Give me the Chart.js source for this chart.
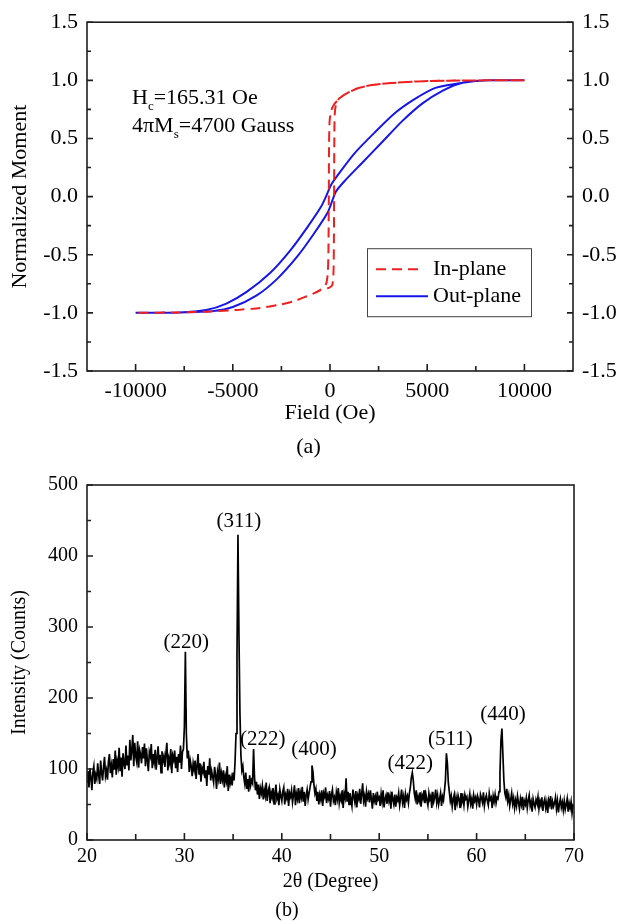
<!doctype html>
<html lang="en">
<head>
  <meta charset="utf-8">
  <title>Hysteresis loops and XRD pattern</title>
  <script src="https://cdn.jsdelivr.net/npm/chart.js@4.4.0/dist/chart.umd.min.js"></script>
  <style>
    body { margin: 0; background: #fff; }
    #wrap { position: relative; width: 617px; height: 924px; }
    canvas { position: absolute; left: 0; }
  </style>
</head>
<body>
<div id="wrap">
  <canvas id="loopChart" width="617" height="464" style="top:0;width:617px;height:464px"></canvas>
  <canvas id="xrdChart" width="617" height="460" style="top:464px;width:617px;height:460px"></canvas>
</div>
<script>
  Chart.defaults.font.family = '"Liberation Serif", "Times New Roman", serif';
  Chart.defaults.color = '#000';
  Chart.defaults.animation = false;

  // ---------- (a) hysteresis loops ----------
  const fieldTicks = [-10000, -5000, 0, 5000, 10000];
  const fieldMinor = [-7500, -2500, 2500, 7500];
  const momentTicks = [-1.5, -1.0, -0.5, 0.0, 0.5, 1.0, 1.5];
  const momentMinor = [-1.25, -0.75, -0.25, 0.25, 0.75, 1.25];

  // in-plane, field sweeping down then up
  const inPlaneDownH = [10000, 8000, 6000, 4400, 3000, 2000, 1400, 1000, 600, 400, 200, 60, -20, -50, -60, -80, -110, -200, -470, -800, -1160, -1850, -2600, -3600, -4800, -6100, -7500, -10000];
  const inPlaneDownM = [1.0, 1.0, 0.997, 0.99, 0.975, 0.955, 0.93, 0.9, 0.86, 0.83, 0.79, 0.74, 0.65, 0.45, 0.0, -0.45, -0.65, -0.75, -0.8, -0.83, -0.855, -0.9, -0.93, -0.958, -0.975, -0.988, -0.996, -1.0];
  const inPlaneUpH = [-10000, -7500, -6100, -4800, -3600, -2600, -1850, -1160, -800, -470, -250, -50, 120, 180, 200, 210, 220, 240, 300, 400, 600, 1000, 1400, 2000, 3000, 4400, 6000, 8000, 10000];
  const inPlaneUpM = [-1.0, -0.996, -0.988, -0.975, -0.958, -0.93, -0.9, -0.855, -0.83, -0.8, -0.79, -0.785, -0.76, -0.65, -0.4, 0.0, 0.45, 0.7, 0.79, 0.83, 0.86, 0.9, 0.93, 0.955, 0.975, 0.99, 0.997, 1.0, 1.0];

  // out-plane
  const outPlaneDownH = [10000, 8200, 6820, 5420, 4370, 3330, 2290, 1250, 400, 52, -208, -470, -1150, -2030, -3070, -4290, -5330, -6370, -7760, -10000];
  const outPlaneDownM = [1.0, 1.0, 0.98, 0.935, 0.84, 0.717, 0.55, 0.37, 0.185, 0.10, 0.0, -0.09, -0.26, -0.46, -0.655, -0.82, -0.92, -0.975, -0.997, -1.0];
  const outPlaneUpH = [-10000, -7760, -6040, -5000, -3770, -2730, -1680, -830, -120, 140, 310, 730, 1610, 2660, 3700, 4740, 5780, 6820, 8200, 10000];
  const outPlaneUpM = [-1.0, -0.997, -0.985, -0.95, -0.85, -0.71, -0.515, -0.32, -0.137, -0.025, 0.045, 0.13, 0.283, 0.465, 0.647, 0.80, 0.91, 0.98, 1.0, 1.0];

  // ---------- (b) XRD pattern ----------
  const scanStart = 20, scanStep = 0.1;
  const xrdCounts = [
    82, 97, 74, 101, 88, 70, 95, 104, 79, 92,        // 20
    86, 108, 91, 79, 112, 95, 84, 103, 117, 90,      // 21
    98, 85, 110, 121, 94, 105, 88, 114, 99, 126,     // 22
    92, 111, 103, 130, 97, 116, 89, 122, 108, 100,   // 23
    133, 105, 119, 98, 141, 112, 126, 148, 104, 137, // 24
    118, 110, 139, 102, 127, 121, 108, 131, 115, 136,// 25
    104, 129, 112, 97, 124, 118, 135, 101, 121, 110, // 26
    127, 99, 116, 132, 106, 120, 95, 125, 111, 118,  // 27
    103, 122, 137, 98, 115, 108, 128, 94, 119, 113,  // 28
    126, 101, 117, 96, 121, 109, 133, 100, 124, 128, // 29
    160, 265, 150, 115, 126, 96, 112, 104, 90, 108,  // 30
    99, 112, 86, 104, 121, 93, 108, 82, 101, 96,     // 31
    110, 87, 98, 76, 104, 92, 115, 84, 97, 89,       // 32
    81, 103, 92, 72, 96, 87, 109, 79, 94, 85,        // 33
    98, 74, 90, 83, 104, 69, 92, 80, 88, 77,         // 34
    95, 84, 110, 150, 260, 430, 290, 180, 120, 98,   // 35
    104, 88, 79, 95, 72, 86, 68, 91, 77, 84,         // 36
    80, 128, 88, 70, 82, 64, 78, 58, 73, 66,         // 37
    76, 57, 70, 62, 81, 55, 69, 74, 52, 67,          // 38
    60, 73, 51, 66, 78, 58, 63, 49, 71, 62,          // 39
    55, 68, 74, 50, 64, 59, 72, 48, 66, 61,          // 40
    70, 53, 63, 77, 49, 65, 58, 73, 52, 67,          // 41
    60, 75, 54, 68, 48, 63, 71, 57, 66, 74,          // 42
    82, 105, 96, 78, 66, 72, 55, 68, 50, 64,         // 43
    57, 70, 48, 66, 61, 74, 52, 63, 58, 69,          // 44
    47, 64, 71, 55, 60, 49, 67, 58, 73, 52,          // 45
    62, 56, 70, 45, 65, 59, 87, 54, 68, 50,          // 46
    66, 57, 48, 71, 61, 53, 69, 46, 63, 58,          // 47
    72, 51, 64, 80, 55, 62, 47, 68, 59, 65,          // 48
    53, 70, 58, 44, 66, 55, 61, 49, 68, 57,          // 49
    60, 48, 65, 54, 70, 46, 58, 63, 51, 67,          // 50
    55, 62, 44, 68, 57, 50, 64, 47, 60, 56,          // 51
    66, 49, 59, 71, 53, 61, 45, 65, 57, 62,          // 52
    52, 66, 74, 88, 95, 84, 66, 58, 70, 50,          // 53
    61, 55, 67, 47, 63, 58, 70, 52, 64, 56,          // 54
    49, 66, 57, 62, 45, 68, 54, 60, 71, 53,          // 55
    63, 50, 58, 66, 48, 61, 56, 69, 84, 122,         // 56
    108, 80, 68, 55, 62, 47, 58, 64, 42, 60,         // 57
    52, 63, 57, 45, 66, 54, 60, 49, 64, 58,          // 58
    61, 47, 56, 65, 51, 58, 44, 63, 55, 60,          // 59
    50, 62, 57, 46, 64, 59, 53, 67, 48, 58,          // 60
    63, 55, 49, 66, 57, 60, 45, 62, 54, 64,          // 61
    52, 60, 58, 68, 95, 140, 157, 120, 84, 66,       // 62
    60, 72, 55, 63, 48, 57, 66, 51, 59, 45,          // 63
    56, 48, 62, 53, 44, 58, 50, 61, 42, 55,          // 64
    50, 59, 45, 56, 63, 48, 54, 40, 58, 51,          // 65
    46, 57, 52, 61, 44, 55, 49, 60, 41, 53,          // 66
    58, 45, 53, 38, 56, 50, 62, 43, 54, 47,          // 67
    52, 60, 44, 55, 39, 51, 58, 46, 53, 42,          // 68
    55, 43, 50, 58, 40, 52, 45, 54, 38, 49,          // 69
    47                                               // 70
  ];
  const angleTicks = [20, 30, 40, 50, 60, 70];
  const angleMinor = [25, 35, 45, 55, 65];
  const countTicks = [0, 100, 200, 300, 400, 500];
  const countMinor = [50, 150, 250, 350, 450];
  const peakNames = ['(220)', '(311)', '(222)', '(400)', '(422)', '(511)', '(440)'];
  const peakLabelAngle = [30.2, 35.6, 38.05, 43.3, 53.2, 57.3, 62.7];
  const peakLabelCount = [278, 448, 142, 127, 108, 142, 177];

  // ---------- helpers ----------
  function pts(xs, ys) {
    return xs.map((x, i) => ({ x: x, y: ys[i] }));
  }
  function fixedTicks(values) {
    return scale => { scale.ticks = values.map(v => ({ value: v })); };
  }
  function inwardTicks(chart, id, values, len, edge) {
    const scale = chart.scales[id], a = chart.chartArea, ctx = chart.ctx;
    ctx.beginPath();
    values.forEach(v => {
      const p = scale.getPixelForValue(v);
      if (edge === 'bottom') { ctx.moveTo(p, a.bottom); ctx.lineTo(p, a.bottom - len); }
      if (edge === 'left') { ctx.moveTo(a.left, p); ctx.lineTo(a.left + len, p); }
      if (edge === 'right') { ctx.moveTo(a.right, p); ctx.lineTo(a.right - len, p); }
    });
    ctx.stroke();
  }
  function subText(ctx, x, y, main, sub, rest) {
    ctx.font = '22px "Liberation Serif"';
    ctx.fillText(main, x, y);
    x += ctx.measureText(main).width;
    ctx.font = '13px "Liberation Serif"';
    ctx.fillText(sub, x, y + 6);
    x += ctx.measureText(sub).width;
    ctx.font = '22px "Liberation Serif"';
    ctx.fillText(rest, x, y);
  }

  const loopDecor = {
    id: 'loopDecor',
    afterDraw(chart) {
      const { ctx, chartArea: a } = chart;
      ctx.save();
      ctx.strokeStyle = '#1e1e1e';
      ctx.lineWidth = 1.6;
      ctx.strokeRect(a.left, a.top, a.width, a.height);
      inwardTicks(chart, 'x', fieldTicks, 7, 'bottom');
      inwardTicks(chart, 'x', fieldMinor, 5, 'bottom');
      inwardTicks(chart, 'y', momentTicks, 6, 'left');
      inwardTicks(chart, 'y', momentMinor, 4, 'left');
      inwardTicks(chart, 'y2', momentTicks, 6, 'right');
      inwardTicks(chart, 'y2', momentMinor, 4, 'right');

      // coercivity / saturation note
      ctx.fillStyle = '#000';
      ctx.textAlign = 'left';
      ctx.textBaseline = 'alphabetic';
      subText(ctx, a.left + 45, a.top + 82, 'H', 'c', '=165.31 Oe');
      subText(ctx, a.left + 45, a.top + 110, '4πM', 's', '=4700 Gauss');

      // boxed legend
      const bx = a.left + 280, by = a.top + 226;
      ctx.strokeStyle = '#444';
      ctx.lineWidth = 1;
      ctx.strokeRect(bx + 0.5, by + 0.5, 164, 68);
      ctx.font = '22px "Liberation Serif"';
      ctx.textBaseline = 'middle';
      chart.data.datasets.forEach((ds, i) => {
        const ry = by + 21 + i * 27;
        ctx.strokeStyle = ds.borderColor;
        ctx.lineWidth = ds.borderWidth;
        ctx.setLineDash(ds.borderDash || []);
        ctx.beginPath();
        ctx.moveTo(bx + 9, ry);
        ctx.lineTo(bx + (ds.borderDash ? 55 : 61), ry);
        ctx.stroke();
        ctx.setLineDash([]);
        ctx.fillText(ds.label, bx + 66, ry);
      });
      ctx.restore();
    }
  };

  const xrdDecor = {
    id: 'xrdDecor',
    afterDraw(chart) {
      const { ctx, chartArea: a, scales } = chart;
      ctx.save();
      ctx.strokeStyle = '#1e1e1e';
      ctx.lineWidth = 1.6;
      ctx.strokeRect(a.left, a.top, a.width, a.height);
      inwardTicks(chart, 'x', angleTicks, 7, 'bottom');
      inwardTicks(chart, 'x', angleMinor, 6, 'bottom');
      inwardTicks(chart, 'y', countTicks, 6, 'left');
      inwardTicks(chart, 'y', countMinor, 4, 'left');

      ctx.fillStyle = '#000';
      ctx.font = '21px "Liberation Serif"';
      ctx.textAlign = 'center';
      ctx.textBaseline = 'middle';
      peakNames.forEach((t, i) => {
        ctx.fillText(t, scales.x.getPixelForValue(peakLabelAngle[i]), scales.y.getPixelForValue(peakLabelCount[i]));
      });
      ctx.restore();
    }
  };

  const noGrid = { display: false, drawTicks: false };

  new Chart(document.getElementById('loopChart'), {
    type: 'scatter',
    data: {
      datasets: [{
        label: 'In-plane',
        data: pts(inPlaneDownH, inPlaneDownM).concat(pts(inPlaneUpH, inPlaneUpM)),
        showLine: true,
        borderColor: 'rgb(238, 32, 32)',
        borderWidth: 2,
        borderDash: [10, 6],
        pointRadius: 0,
        tension: 0.2
      }, {
        label: 'Out-plane',
        data: pts(outPlaneDownH, outPlaneDownM).concat(pts(outPlaneUpH, outPlaneUpM)),
        showLine: true,
        borderColor: 'rgb(22, 22, 232)',
        borderWidth: 2,
        pointRadius: 0,
        tension: 0.25
      }]
    },
    options: {
      responsive: false,
      layout: { padding: { top: 14, left: 0, right: 0, bottom: 0 } },
      plugins: {
        legend: { display: false },
        tooltip: { enabled: false },
        title: {
          display: true, text: '(a)', position: 'bottom',
          font: { size: 22, weight: 'normal' }, color: '#000',
          padding: { top: 0, bottom: 3.8 }
        }
      },
      scales: {
        x: {
          type: 'linear', min: -12500, max: 12500,
          grid: noGrid, border: { display: false },
          afterBuildTicks: fixedTicks(fieldTicks),
          afterFit: s => { s.height = 62.8; },
          ticks: { font: { size: 22 }, padding: 7, maxRotation: 0, autoSkip: false, callback: v => String(v) },
          title: { display: true, text: 'Field (Oe)', font: { size: 22 }, padding: { top: 0, bottom: 7.6 } }
        },
        y: {
          type: 'linear', position: 'left', min: -1.5, max: 1.5,
          grid: noGrid, border: { display: false },
          afterBuildTicks: fixedTicks(momentTicks),
          afterFit: s => { s.width = 87; },
          ticks: { font: { size: 22 }, padding: 9, autoSkip: false, callback: v => v.toFixed(1) },
          title: { display: true, text: 'Normalized Moment', font: { size: 22 }, padding: { top: 6.8, bottom: 0 } }
        },
        y2: {
          type: 'linear', position: 'right', min: -1.5, max: 1.5,
          grid: noGrid, border: { display: false },
          afterBuildTicks: fixedTicks(momentTicks),
          afterFit: s => { s.width = 44; },
          ticks: { font: { size: 22 }, padding: 9, autoSkip: false, callback: v => v.toFixed(1) }
        }
      }
    },
    plugins: [loopDecor]
  });

  new Chart(document.getElementById('xrdChart'), {
    type: 'scatter',
    data: {
      datasets: [{
        label: 'XRD',
        data: xrdCounts.map((c, i) => ({ x: scanStart + i * scanStep, y: c })),
        showLine: true,
        borderColor: '#000',
        borderWidth: 1.7,
        pointRadius: 0,
        tension: 0
      }]
    },
    options: {
      responsive: false,
      layout: { padding: { top: 15, left: 0, right: 43, bottom: 0 } },
      plugins: {
        legend: { display: false },
        tooltip: { enabled: false },
        title: {
          display: true, text: '(b)', position: 'bottom',
          font: { size: 20, weight: 'normal' }, color: '#000',
          padding: { top: 0, bottom: 1 }
        }
      },
      scales: {
        x: {
          type: 'linear', min: 20, max: 70,
          grid: noGrid, border: { display: false },
          afterBuildTicks: fixedTicks(angleTicks),
          afterFit: s => { s.height = 59; },
          ticks: { font: { size: 20 }, padding: 5, maxRotation: 0, autoSkip: false },
          title: { display: true, text: '2θ (Degree)', font: { size: 20 }, padding: { top: 0, bottom: 5 } }
        },
        y: {
          type: 'linear', min: 0, max: 500,
          grid: noGrid, border: { display: false },
          afterBuildTicks: fixedTicks(countTicks),
          afterFit: s => { s.width = 87; },
          ticks: { font: { size: 20 }, padding: 9, autoSkip: false },
          title: { display: true, text: 'Intensity (Counts)', font: { size: 20 }, padding: { top: 8, bottom: 0 } }
        }
      }
    },
    plugins: [xrdDecor]
  });
</script>
</body>
</html>
